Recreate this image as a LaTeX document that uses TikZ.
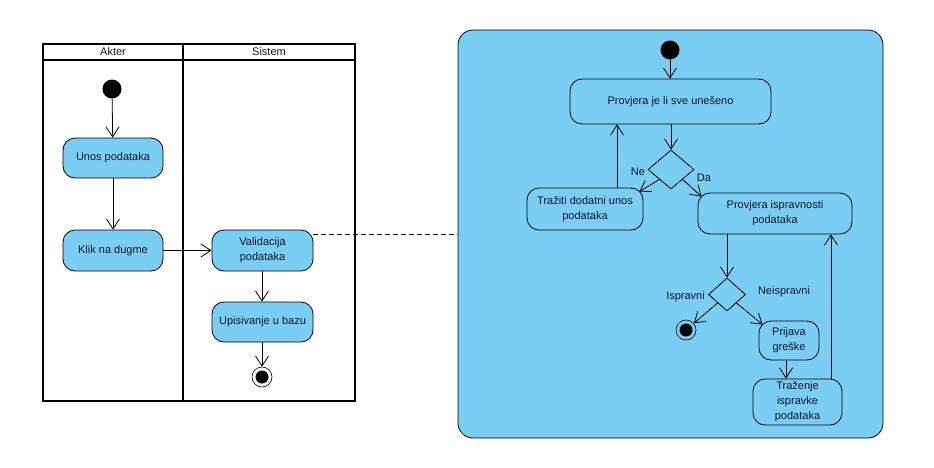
\documentclass[tikz,border=0pt]{standalone}
\usepackage{fontspec}
\setmainfont{Liberation Sans}
\usetikzlibrary{arrows.meta,shapes.geometric,calc}
\definecolor{actblue}{RGB}{122,206,244}
\definecolor{txt}{RGB}{20,20,40}
\tikzset{
  act/.style={draw=black, line width=0.8pt, fill=actblue, rounded corners=12pt,
    inner sep=0pt, align=center, text=txt, font=\fontsize{11}{15}\selectfont},
  startnode/.style={circle, fill=black, inner sep=0pt, minimum size=19pt},
  endnode/.style={circle, draw=black, line width=0.6pt, fill=actblue, inner sep=0pt, minimum size=20pt,
    path picture={\fill[black] (path picture bounding box.center) circle (6.5pt);}},
  endwhite/.style={endnode, fill=white},
  decision/.style={diamond, draw=black, line width=0.8pt, fill=actblue, inner sep=0pt},
  arr/.style={draw=black, line width=0.8pt, -{Straight Barb[length=10pt,width=13pt,line width=0.8pt]}},
  lbl/.style={text=txt, font=\fontsize{11}{13}\selectfont},
  lane/.style={draw=black, line width=1.8pt},
}
\begin{document}
\begin{tikzpicture}[x=1pt,y=-1pt]
\useasboundingbox (0,0) rectangle (934,467);
% swimlanes
\draw[lane] (43,44) rectangle (355,401);
\draw[lane] (43,60) -- (355,60);
\draw[lane] (183,44) -- (183,401);
\node[lbl] (akter) at (113,52) {Akter};
\node[lbl] (sistem) at (269,52) {Sistem};
% left diagram
\node[startnode] (s1) at (112,89) {};
\node[act, minimum width=100pt, minimum height=40pt] (unos) at (113,158) {Unos podataka};
\node[act, minimum width=100pt, minimum height=41pt] (klik) at (113,250.5) {Klik na dugme};
\node[act, minimum width=101pt, minimum height=41pt] (valid) at (262.5,250.5) {Validacija\\podataka};
\node[act, minimum width=101pt, minimum height=40pt] (upis) at (262.5,322) {Upisivanje u bazu};
\node[endwhite] (e1) at (262,377) {};
\draw[arr] (s1) -- (unos);
\draw[arr] (unos) -- (klik);
\draw[arr] (klik) -- (valid);
\draw[arr] (valid.south -| e1) -- (upis.north -| e1);
\draw[arr] (upis.south -| e1) -- (e1);
% sub-activity box
\node[draw=black, line width=0.8pt, fill=actblue, rounded corners=15pt, minimum width=425pt, minimum height=408pt, inner sep=0pt] (sub) at (670.5,234) {};
\draw[black, line width=0.8pt, dashed, dash pattern=on 5pt off 3pt] ([yshift=16.5pt]valid.east) -- ([yshift=16.5pt]valid.east -| sub.west);
\node[startnode] (s2) at (670,50) {};
\node[act, minimum width=201pt, minimum height=45pt] (prov1) at (670.5,101.5) {Provjera je li sve unešeno};
\node[decision, minimum width=46pt, minimum height=39pt] (d1) at (671,169.5) {};
\node[act, minimum width=116pt, minimum height=42pt] (trazi) at (585,209) {Tražiti dodatni unos\\podataka};
\node[act, minimum width=154pt, minimum height=41pt] (prov2) at (775,213.5) {Provjera ispravnosti\\podataka};
\node[decision, minimum width=37pt, minimum height=33pt] (d2) at (727,294.5) {};
\node[endnode] (e2) at (686,330) {};
\node[act, minimum width=60pt, minimum height=39pt] (prijava) at (789,340.5) {Prijava\\greške};
\node[act, minimum width=89pt, minimum height=46pt] (trazenje) at (797.5,402) {Traženje\\ispravke\\podataka};
\node[lbl] (ne) at (638,172) {Ne};
\node[lbl] (da) at (704,178) {Da};
\node[lbl] (isp) at (685.5,297) {Ispravni};
\node[lbl] (neisp) at (784,292) {Neispravni};
\draw[arr] (s2) -- (prov1.north -| s2);
\draw[arr] (prov1.south -| d1) -- (d1.north);
\draw[arr] (d1.south west) -- ($(trazi.north east)+(-4,4)$);
\draw[arr] (d1.south east) -- ($(prov2.north west)+(4,4)$);
\draw[arr] ([xshift=32pt]trazi.north) -- ([xshift=32pt]trazi.north |- prov1.south);
\draw[arr] (prov2.south -| d2) -- (d2.north);
\draw[arr] (d2.south west) -- (e2);
\draw[arr] (d2.south east) -- ($(prijava.north west)+(4,4)$);
\draw[arr] ([xshift=-3pt]prijava.south) -- ([xshift=-3pt]prijava.south |- trazenje.north);
\draw[arr] ([xshift=33.5pt]trazenje.north) -- ([xshift=33.5pt]trazenje.north |- prov2.south);
\end{tikzpicture}
\end{document}
